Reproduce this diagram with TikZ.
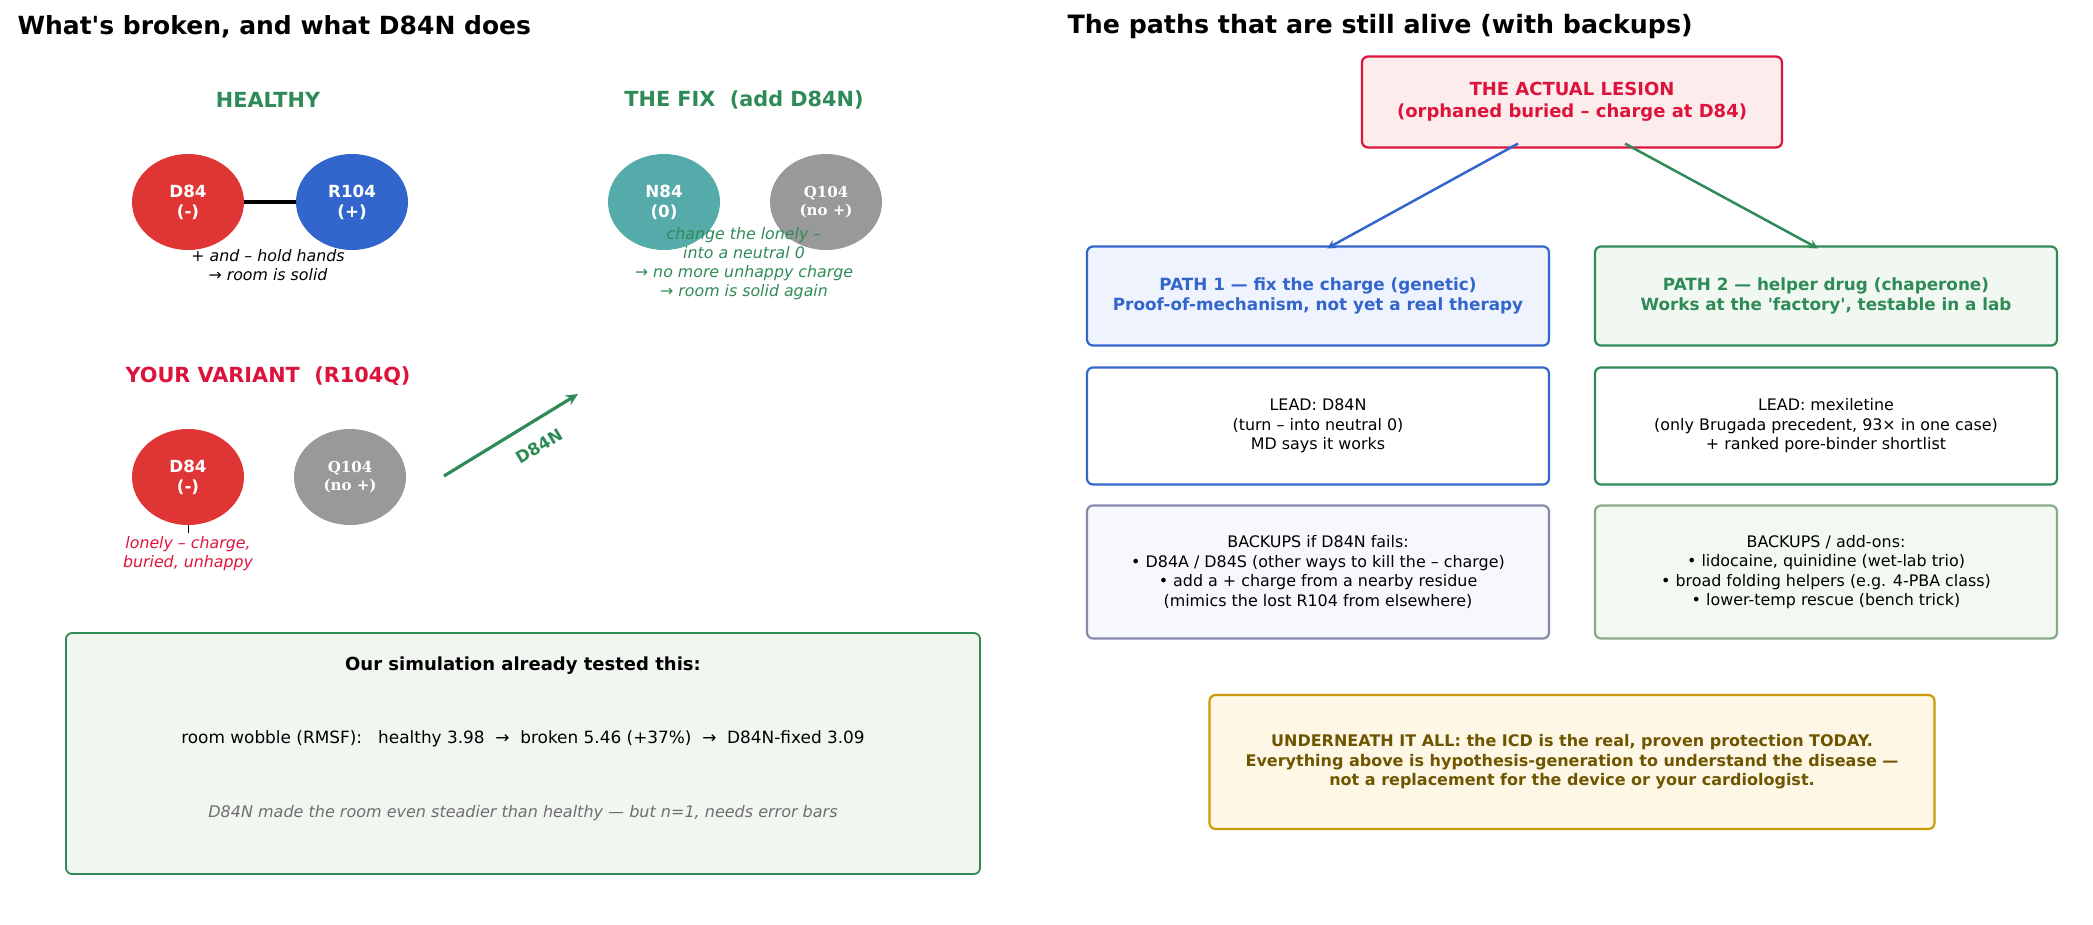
\documentclass[tikz,border=0pt]{standalone}
\usepackage{fontspec}
\setmainfont{DejaVu Sans}
\newfontfamily\resfont{DejaVu Serif}
\usetikzlibrary{shapes.geometric,arrows.meta,calc}

\definecolor{sgreen}{HTML}{2E8B57}
\definecolor{crim}{HTML}{DC143C}
\definecolor{bluec}{HTML}{3366CC}
\definecolor{redres}{HTML}{E03535}
\definecolor{tealres}{HTML}{55AAAA}
\definecolor{grayres}{HTML}{999999}
\definecolor{lesionfill}{HTML}{FDECEC}
\definecolor{p1fill}{HTML}{EEF3FD}
\definecolor{p2fill}{HTML}{F1F7F1}
\definecolor{simfill}{HTML}{F1F6F1}
\definecolor{bk1fill}{HTML}{F7F8FC}
\definecolor{bk1draw}{HTML}{8888AA}
\definecolor{bk2fill}{HTML}{F3F9F2}
\definecolor{bk2draw}{HTML}{88AA88}
\definecolor{notefill}{HTML}{FFF7E6}
\definecolor{notedraw}{HTML}{CC9A06}
\definecolor{notetext}{HTML}{6E5500}
\definecolor{softgray}{HTML}{6E6E6E}

\tikzset{
  x=1pt, y=-1pt,
  title/.style={anchor=west, font=\fontsize{25}{30}\selectfont\bfseries},
  head/.style={font=\fontsize{20.8}{25}\selectfont\bfseries},
  residue/.style={ellipse, minimum width=112pt, minimum height=96pt, inner sep=0pt,
    text=white, align=center, font=\fontsize{16.7}{20}\selectfont\bfseries},
  serifres/.style={residue, font=\fontsize{15}{18}\selectfont\resfont\bfseries},
  note/.style={align=center, font=\fontsize{15.8}{19}\selectfont\itshape},
  card/.style={draw, rounded corners=6pt, line width=2.2pt, inner sep=0pt,
    minimum width=462pt, align=center},
  cardhead/.style={card, minimum height=99pt, font=\fontsize{16.8}{20.5}\selectfont\bfseries},
  cardbody/.style={card, font=\fontsize{15.9}{19.5}\selectfont},
  link/.style={line width=2.5pt, -{Stealth[length=9pt,width=9pt]}},
}

\begin{document}
\begin{tikzpicture}
\useasboundingbox (0,0) rectangle (2093,924);

% ---------- left panel ----------
\node[title] (ltitle) at (14,27) {What\textquotesingle s broken, and what D84N does};

\node[head, text=sgreen] (hhead) at (268,100) {HEALTHY};
\node[head, text=sgreen] (fhead) at (744,100) {THE FIX\ \ (add D84N)};
\node[head, text=crim] (vhead) at (268,376) {YOUR VARIANT\ \ (R104Q)};

\node[residue, fill=redres] (d84h) at (188,202) {D84\\(-)};
\node[residue, fill=bluec] (r104h) at (352,202) {R104\\(+)};
\draw[line width=3.5pt] (d84h.east) -- (r104h.west);
\node[note] (hnote) at (268,265) {+ and – hold hands\\→ room is solid};

\node[residue, fill=tealres] (n84f) at (664,202) {N84\\(0)};
\node[serifres, fill=grayres] (q104f) at (826,202) {Q104\\(no +)};
\node[note, text=sgreen] (fnote) at (744,264) {change the lonely –\\into a neutral 0\\→ no more unhappy charge\\→ room is solid again};

\node[residue, fill=redres] (d84v) at (188,477) {D84\\(-)};
\node[serifres, fill=grayres] (q104v) at (350,477) {Q104\\(no +)};
\node[note, text=crim] (vnote) at (188,554) {lonely – charge,\\buried, unhappy};
\draw[line width=1pt] (vnote.north) -- (d84v.south);

\coordinate (fixstart) at (444,476);
\coordinate (fixend) at (578,394);
\draw[line width=3.2pt, sgreen, -{Stealth[length=12pt,width=11pt]}] (fixstart) -- (fixend);
\node[text=sgreen, font=\fontsize{16.7}{20}\selectfont\bfseries, rotate=31] (fixlabel) at (539,446) {D84N};

\node[draw=sgreen, fill=simfill, line width=1.8pt, rounded corners=6pt,
  minimum width=914pt, minimum height=241pt] (sim) at (523,753.5) {};
\node[font=\fontsize{18}{21}\selectfont\bfseries] (simhead) at (523,666) {Our simulation already tested this:};
\node[font=\fontsize{16.9}{20}\selectfont] (simdata) at (523,739) {room wobble (RMSF):\ \ \ healthy 3.98\ \ →\ \ broken 5.46 (+37\%)\ \ →\ \ D84N-fixed 3.09};
\node[font=\fontsize{16}{19}\selectfont\itshape, text=softgray] (simnote) at (523,813) {D84N made the room even steadier than healthy — but n=1, needs error bars};

% ---------- right panel ----------
\node[title, font=\fontsize{25.3}{30}\selectfont\bfseries] (rtitle) at (1064,27) {The paths that are still alive (with backups)};

\node[draw=crim, fill=lesionfill, text=crim, rounded corners=6pt, line width=2.2pt,
  minimum width=420pt, minimum height=91pt, align=center,
  font=\fontsize{18}{22}\selectfont\bfseries] (lesion) at (1572,102)
  {THE ACTUAL LESION\\(orphaned buried – charge at D84)};

\node[cardhead, draw=bluec, fill=p1fill, text=bluec] (path1) at (1318,296)
  {PATH 1 — fix the charge (genetic)\\Proof-of-mechanism, not yet a real therapy};
\node[cardhead, draw=sgreen, fill=p2fill, text=sgreen] (path2) at (1826,296)
  {PATH 2 — helper drug (chaperone)\\Works at the \textquotesingle factory\textquotesingle, testable in a lab};

\draw[link, bluec] ($(lesion.south)+(-54,-5)$) -- ($(path1.north)+(9,3)$);
\draw[link, sgreen] ($(lesion.south)+(53,-5)$) -- ($(path2.north)+(-8,3)$);

\node[cardbody, draw=bluec, fill=white, minimum height=117pt] (lead1) at (1318,426)
  {LEAD: D84N\\(turn – into neutral 0)\\MD says it works};
\node[cardbody, draw=sgreen, fill=white, minimum height=117pt] (lead2) at (1826,426)
  {LEAD: mexiletine\\(only Brugada precedent, 93× in one case)\\+ ranked pore-binder shortlist};

\node[cardbody, draw=bk1draw, fill=bk1fill, minimum height=133pt] (back1) at (1318,572)
  {BACKUPS if D84N fails:\\• D84A / D84S (other ways to kill the – charge)\\• add a + charge from a nearby residue\\(mimics the lost R104 from elsewhere)};
\node[cardbody, draw=bk2draw, fill=bk2fill, minimum height=133pt] (back2) at (1826,572)
  {BACKUPS / add-ons:\\• lidocaine, quinidine (wet-lab trio)\\• broad folding helpers (e.g. 4-PBA class)\\• lower-temp rescue (bench trick)};

\node[draw=notedraw, fill=notefill, text=notetext, rounded corners=6pt, line width=2.2pt,
  minimum width=725pt, minimum height=134pt, align=center,
  font=\fontsize{16}{19.5}\selectfont\bfseries] (note) at (1572,762)
  {UNDERNEATH IT ALL: the ICD is the real, proven protection TODAY.\\Everything above is hypothesis-generation to understand the disease —\\not a replacement for the device or your cardiologist.};
\end{tikzpicture}
\end{document}
